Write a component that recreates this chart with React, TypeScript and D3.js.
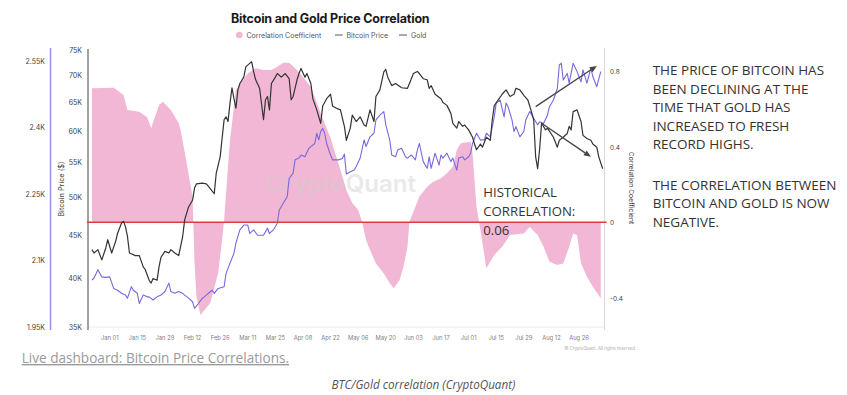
import React from 'react';
import * as d3 from 'd3';

// ---------- DATA ----------
// Bitcoin price, thousands of USD
const btcData: [string, number][] = [
  ['2023-12-23', 43.3], ['2023-12-24', 42.9], ['2023-12-26', 43.3], ['2023-12-28', 42.1], ['2023-12-30', 43.5],
  ['2023-12-31', 44.5], ['2024-01-02', 42.9], ['2024-01-04', 44.3], ['2024-01-05', 45.3], ['2024-01-07', 46.6],
  ['2024-01-08', 46.8], ['2024-01-09', 46.1], ['2024-01-10', 44.9], ['2024-01-11', 42.9], ['2024-01-14', 42.6],
  ['2024-01-16', 42.6], ['2024-01-18', 41.3], ['2024-01-19', 41.0], ['2024-01-21', 39.8], ['2024-01-22', 39.5],
  ['2024-01-23', 40.0], ['2024-01-25', 39.8], ['2024-01-26', 41.3], ['2024-01-27', 42.4], ['2024-01-29', 43.1],
  ['2024-01-31', 42.9], ['2024-02-01', 43.3], ['2024-02-03', 42.9], ['2024-02-05', 42.6], ['2024-02-07', 44.9],
  ['2024-02-08', 47.0], ['2024-02-10', 48.7], ['2024-02-12', 49.6], ['2024-02-13', 51.3], ['2024-02-14', 51.9],
  ['2024-02-17', 52.0], ['2024-02-19', 51.9], ['2024-02-21', 51.2], ['2024-02-23', 50.5], ['2024-02-24', 53.4],
  ['2024-02-26', 55.9], ['2024-02-28', 61.9], ['2024-02-29', 62.4], ['2024-03-01', 61.6], ['2024-03-02', 64.8],
  ['2024-03-03', 67.6], ['2024-03-04', 65.6], ['2024-03-05', 63.9], ['2024-03-06', 67.2], ['2024-03-07', 68.4],
  ['2024-03-09', 69.6], ['2024-03-10', 71.6], ['2024-03-12', 72.3], ['2024-03-13', 72.6], ['2024-03-14', 70.6],
  ['2024-03-15', 69.1], ['2024-03-17', 67.5], ['2024-03-19', 61.9], ['2024-03-20', 65.4], ['2024-03-21', 66.0],
  ['2024-03-22', 63.6], ['2024-03-23', 68.4], ['2024-03-25', 69.6], ['2024-03-26', 70.3], ['2024-03-28', 69.6],
  ['2024-03-30', 70.3], ['2024-04-01', 69.3], ['2024-04-02', 65.4], ['2024-04-03', 66.0], ['2024-04-05', 69.1],
  ['2024-04-06', 70.3], ['2024-04-07', 71.3], ['2024-04-09', 69.6], ['2024-04-10', 70.3], ['2024-04-12', 68.4],
  ['2024-04-13', 65.6], ['2024-04-15', 63.6], ['2024-04-17', 61.3], ['2024-04-18', 64.3], ['2024-04-20', 65.6],
  ['2024-04-22', 66.4], ['2024-04-23', 64.3], ['2024-04-25', 63.9], ['2024-04-27', 63.6], ['2024-04-29', 60.8],
  ['2024-04-30', 58.5], ['2024-05-02', 60.5], ['2024-05-03', 62.7], ['2024-05-05', 61.6], ['2024-05-07', 62.4],
  ['2024-05-09', 61.0], ['2024-05-10', 60.8], ['2024-05-12', 63.6], ['2024-05-14', 61.6], ['2024-05-15', 66.0],
  ['2024-05-17', 67.2], ['2024-05-19', 70.6], ['2024-05-20', 71.1], ['2024-05-21', 69.6], ['2024-05-23', 68.0],
  ['2024-05-25', 68.4], ['2024-05-28', 67.6], ['2024-05-31', 67.5], ['2024-06-01', 68.4], ['2024-06-03', 70.3],
  ['2024-06-05', 70.7], ['2024-06-06', 70.3], ['2024-06-08', 69.3], ['2024-06-10', 69.1], ['2024-06-11', 67.5],
  ['2024-06-12', 68.0], ['2024-06-14', 66.4], ['2024-06-17', 65.6], ['2024-06-18', 64.9], ['2024-06-20', 64.4],
  ['2024-06-22', 63.0], ['2024-06-23', 61.3], ['2024-06-25', 60.5], ['2024-06-26', 61.6], ['2024-06-28', 60.8],
  ['2024-06-29', 61.0], ['2024-07-01', 60.2], ['2024-07-03', 59.0], ['2024-07-04', 57.9], ['2024-07-05', 57.0],
  ['2024-07-07', 57.9], ['2024-07-08', 57.4], ['2024-07-10', 59.0], ['2024-07-12', 58.5], ['2024-07-13', 61.9],
  ['2024-07-14', 64.3], ['2024-07-16', 65.4], ['2024-07-18', 66.4], ['2024-07-20', 67.2], ['2024-07-22', 66.0],
  ['2024-07-24', 66.4], ['2024-07-25', 67.5], ['2024-07-27', 67.2], ['2024-07-29', 66.2], ['2024-07-31', 65.4],
  ['2024-08-01', 64.3], ['2024-08-03', 61.9], ['2024-08-04', 55.9], ['2024-08-05', 54.1], ['2024-08-06', 57.0],
  ['2024-08-07', 61.3], ['2024-08-09', 60.2], ['2024-08-10', 60.5], ['2024-08-13', 59.0], ['2024-08-15', 57.4],
  ['2024-08-16', 58.5], ['2024-08-18', 59.0], ['2024-08-20', 59.6], ['2024-08-21', 60.8], ['2024-08-22', 60.2],
  ['2024-08-23', 63.3], ['2024-08-25', 63.6], ['2024-08-27', 61.6], ['2024-08-28', 59.3], ['2024-08-30', 58.8],
  ['2024-09-01', 58.5], ['2024-09-02', 57.9], ['2024-09-04', 57.4], ['2024-09-05', 55.9], ['2024-09-07', 54.1],
];

// Gold price, USD
const goldData: [string, number][] = [
  ['2023-12-23', 2056], ['2023-12-24', 2060], ['2023-12-26', 2079], ['2023-12-28', 2063], ['2023-12-30', 2062],
  ['2024-01-01', 2063], ['2024-01-03', 2037], ['2024-01-05', 2033], ['2024-01-07', 2026], ['2024-01-09', 2022],
  ['2024-01-10', 2015], ['2024-01-12', 2041], ['2024-01-13', 2033], ['2024-01-15', 2026], ['2024-01-16', 2003],
  ['2024-01-18', 2022], ['2024-01-20', 2018], ['2024-01-21', 2018], ['2024-01-23', 2011], ['2024-01-25', 2018],
  ['2024-01-27', 2022], ['2024-01-29', 2030], ['2024-01-31', 2049], ['2024-02-01', 2030], ['2024-02-03', 2026],
  ['2024-02-05', 2030], ['2024-02-07', 2026], ['2024-02-08', 2022], ['2024-02-10', 2015], ['2024-02-12', 2007],
  ['2024-02-13', 1992], ['2024-02-15', 2003], ['2024-02-17', 2015], ['2024-02-18', 2018], ['2024-02-20', 2026],
  ['2024-02-22', 2033], ['2024-02-23', 2026], ['2024-02-25', 2037], ['2024-02-28', 2041], ['2024-02-29', 2071],
  ['2024-03-02', 2094], ['2024-03-04', 2116], ['2024-03-05', 2139], ['2024-03-07', 2169], ['2024-03-09', 2180],
  ['2024-03-11', 2180], ['2024-03-12', 2161], ['2024-03-14', 2169], ['2024-03-16', 2157], ['2024-03-17', 2157],
  ['2024-03-19', 2157], ['2024-03-21', 2173], ['2024-03-22', 2161], ['2024-03-24', 2169], ['2024-03-26', 2184],
  ['2024-03-27', 2214], ['2024-03-29', 2229], ['2024-03-31', 2244], ['2024-04-01', 2285], ['2024-04-03', 2297],
  ['2024-04-04', 2327], ['2024-04-06', 2331], ['2024-04-07', 2338], ['2024-04-09', 2334], ['2024-04-11', 2353],
  ['2024-04-12', 2357], ['2024-04-14', 2364], ['2024-04-15', 2387], ['2024-04-16', 2372], ['2024-04-17', 2391],
  ['2024-04-18', 2398], ['2024-04-19', 2387], ['2024-04-20', 2364], ['2024-04-22', 2338], ['2024-04-23', 2327],
  ['2024-04-26', 2327], ['2024-04-28', 2330], ['2024-04-29', 2340], ['2024-04-30', 2295], ['2024-05-02', 2300],
  ['2024-05-04', 2304], ['2024-05-05', 2312], ['2024-05-07', 2331], ['2024-05-09', 2372], ['2024-05-10', 2357],
  ['2024-05-12', 2379], ['2024-05-14', 2387], ['2024-05-15', 2417], ['2024-05-17', 2428], ['2024-05-19', 2436],
  ['2024-05-20', 2406], ['2024-05-22', 2372], ['2024-05-23', 2338], ['2024-05-25', 2334], ['2024-05-26', 2349],
  ['2024-05-28', 2353], ['2024-05-30', 2334], ['2024-05-31', 2331], ['2024-06-02', 2338], ['2024-06-04', 2327],
  ['2024-06-05', 2349], ['2024-06-06', 2364], ['2024-06-08', 2323], ['2024-06-10', 2308], ['2024-06-11', 2334],
  ['2024-06-12', 2308], ['2024-06-14', 2342], ['2024-06-16', 2315], ['2024-06-17', 2338], ['2024-06-18', 2331],
  ['2024-06-20', 2342], ['2024-06-22', 2323], ['2024-06-23', 2331], ['2024-06-25', 2304], ['2024-06-26', 2331],
  ['2024-06-28', 2334], ['2024-06-29', 2327], ['2024-07-01', 2334], ['2024-07-02', 2342], ['2024-07-03', 2364],
  ['2024-07-05', 2387], ['2024-07-07', 2372], ['2024-07-09', 2372], ['2024-07-10', 2387], ['2024-07-12', 2379],
  ['2024-07-14', 2424], ['2024-07-15', 2455], ['2024-07-17', 2462], ['2024-07-19', 2424], ['2024-07-20', 2455],
  ['2024-07-21', 2447], ['2024-07-23', 2417], ['2024-07-24', 2391], ['2024-07-25', 2402], ['2024-07-27', 2379],
  ['2024-07-29', 2391], ['2024-07-30', 2417], ['2024-08-01', 2436], ['2024-08-03', 2421], ['2024-08-05', 2406],
  ['2024-08-06', 2413], ['2024-08-08', 2409], ['2024-08-10', 2428], ['2024-08-11', 2447], ['2024-08-13', 2462],
  ['2024-08-15', 2488], ['2024-08-16', 2541], ['2024-08-17', 2545], ['2024-08-18', 2507], ['2024-08-20', 2522],
  ['2024-08-21', 2500], ['2024-08-23', 2545], ['2024-08-25', 2526], ['2024-08-27', 2503], ['2024-08-28', 2530],
  ['2024-08-30', 2500], ['2024-09-01', 2534], ['2024-09-02', 2515], ['2024-09-04', 2492], ['2024-09-06', 2526],
];

// Correlation coefficient
const corrData: [string, number][] = [
  ['2023-12-23', 0.714], ['2024-01-03', 0.717], ['2024-01-08', 0.678], ['2024-01-10', 0.599], ['2024-01-16', 0.59],
  ['2024-01-20', 0.56], ['2024-01-22', 0.502], ['2024-01-26', 0.625], ['2024-01-28', 0.643], ['2024-02-01', 0.599],
  ['2024-02-05', 0.528], ['2024-02-06', 0.49], ['2024-02-09', 0.318], ['2024-02-12', 0.138], ['2024-02-13', -0.21],
  ['2024-02-14', -0.39], ['2024-02-16', -0.487], ['2024-02-21', -0.424], ['2024-02-25', -0.265], ['2024-02-27', -0.09],
  ['2024-02-28', 0.016], ['2024-03-02', 0.44], ['2024-03-05', 0.705], ['2024-03-11', 0.793], ['2024-03-15', 0.82],
  ['2024-03-19', 0.811], ['2024-03-23', 0.811], ['2024-03-26', 0.828], ['2024-03-29', 0.849], ['2024-04-01', 0.849],
  ['2024-04-05', 0.811], ['2024-04-12', 0.722], ['2024-04-17', 0.58], ['2024-04-22', 0.45], ['2024-04-27', 0.281],
  ['2024-04-30', 0.175], ['2024-05-03', 0.106], ['2024-05-06', 0.069], ['2024-05-08', 0.007], ['2024-05-10', -0.09],
  ['2024-05-12', -0.143], ['2024-05-15', -0.214], ['2024-05-19', -0.267], ['2024-05-22', -0.319], ['2024-05-24', -0.346],
  ['2024-05-27', -0.302], ['2024-05-29', -0.232], ['2024-05-31', -0.126], ['2024-06-01', 0.007], ['2024-06-04', 0.086],
  ['2024-06-06', 0.139], ['2024-06-10', 0.192], ['2024-06-13', 0.219], ['2024-06-17', 0.237], ['2024-06-20', 0.263],
  ['2024-06-23', 0.298], ['2024-06-25', 0.387], ['2024-06-27', 0.422], ['2024-07-02', 0.431], ['2024-07-03', 0.369],
  ['2024-07-05', 0.086], ['2024-07-07', -0.037], ['2024-07-10', -0.24], ['2024-07-14', -0.17], ['2024-07-18', -0.126],
  ['2024-07-22', -0.064], ['2024-07-29', -0.055], ['2024-08-01', -0.02], ['2024-08-05', -0.064], ['2024-08-08', -0.126],
  ['2024-08-11', -0.205], ['2024-08-15', -0.223], ['2024-08-18', -0.214], ['2024-08-21', -0.126], ['2024-08-23', -0.055],
  ['2024-08-25', -0.064], ['2024-08-27', -0.214], ['2024-08-30', -0.284], ['2024-09-02', -0.337], ['2024-09-06', -0.399],
];

const btcTicks = [35, 40, 45, 50, 55, 60, 65, 70, 75];
const goldTicks = [1950, 2100, 2250, 2400, 2550];
const corrTicks = [-0.4, 0, 0.4, 0.8];
const xTickDates = ['2024-01-01', '2024-01-15', '2024-01-29', '2024-02-12', '2024-02-26', '2024-03-11', '2024-03-25',
  '2024-04-08', '2024-04-22', '2024-05-06', '2024-05-20', '2024-06-03', '2024-06-17', '2024-07-01', '2024-07-15',
  '2024-07-29', '2024-08-12', '2024-08-26'];
const xDomain = ['2023-12-22', '2024-09-07'];
const historicalCorrelation = 0;

const title = 'Bitcoin and Gold Price Correlation';
const noteLines = ['THE PRICE OF BITCOIN HAS', 'BEEN DECLINING AT THE', 'TIME THAT GOLD HAS', 'INCREASED TO FRESH', 'RECORD HIGHS.'];
const noteLines2 = ['THE CORRELATION BETWEEN', 'BITCOIN AND GOLD IS NOW', 'NEGATIVE.'];
const histLines = ['HISTORICAL', 'CORRELATION:', '0.06'];
// arrows in data space: gold rising, bitcoin falling
const goldArrow: [string, number, string, number] = ['2024-08-04', 2447, '2024-09-04', 2539];
const btcArrow: [string, number, string, number] = ['2024-08-07', 61.3, '2024-09-01', 55.9];

const parse = d3.timeParse('%Y-%m-%d') as (s: string) => Date;
const fmtX = d3.timeFormat('%b %d');

const CHART_FONT = "Inter, 'Noto Sans', 'DejaVu Sans', sans-serif";
const NOTE_FONT = "'Open Sans', 'Noto Sans', sans-serif";
const PINK = '#f2b7d4';
const PURPLE = '#7868dc';

function Arrow({ x1, y1, x2, y2 }: { x1: number; y1: number; x2: number; y2: number }) {
  const ang = Math.atan2(y2 - y1, x2 - x1);
  const L = 7, Wd = 3;
  const bx = x2 - L * Math.cos(ang), by = y2 - L * Math.sin(ang);
  const px = -Math.sin(ang) * Wd, py = Math.cos(ang) * Wd;
  return (
    <g>
      <line x1={x1} y1={y1} x2={bx} y2={by} stroke="#444" strokeWidth={1.3} />
      <path d={`M${x2},${y2}L${bx + px},${by + py}L${bx - px},${by - py}Z`} fill="#444" />
    </g>
  );
}

export default function App() {
  const x = d3.scaleTime().domain(xDomain.map(parse)).range([90, 602.7]);
  const yBtc = d3.scaleLog().domain([35, 75]).range([327, 50]);
  const yGold = d3.scaleLinear().domain([1950, 2550]).range([327, 61]);
  const yCorr = d3.scaleLinear().domain([-0.5, 0.8]).range([317.4, 72]);

  const btc = btcData.map(([d, v]) => ({ d: parse(d), v }));
  const gold = goldData.map(([d, v]) => ({ d: parse(d), v }));
  const corr = corrData.map(([d, v]) => ({ d: parse(d), v }));

  const area = d3.area<{ d: Date; v: number }>().x((p) => x(p.d)).y0(yCorr(0)).y1((p) => yCorr(p.v));
  const lineBtc = d3.line<{ d: Date; v: number }>().x((p) => x(p.d)).y((p) => yBtc(p.v));
  const lineGold = d3.line<{ d: Date; v: number }>().x((p) => x(p.d)).y((p) => yGold(p.v));

  const left = 88, right = 604.5, top = 48, bottom = 330;

  return (
    <svg width={847} height={395} style={{ position: 'absolute', left: 0, top: 0, background: '#fff' }}>
      <rect x={0} y={0} width={847} height={395} fill="#fff" />
      {/* title & legend */}
      <text x={231} y={22.7} fontFamily={CHART_FONT} fontWeight={700} fontSize={12.5} letterSpacing={-0.2} fill="#1a1a1a">{title}</text>
      <circle cx={239.3} cy={35} r={3.3} fill={PINK} />
      <text x={246.5} y={37.5} fontFamily={CHART_FONT} fontSize={7} fill="#555">Correlation Coefficient</text>
      <line x1={335} x2={342.7} y1={35} y2={35} stroke="#444" strokeWidth={0.9} />
      <text x={346.5} y={37.5} fontFamily={CHART_FONT} fontSize={7} fill="#555">Bitcoin Price</text>
      <line x1={399} x2={407} y1={35} y2={35} stroke="#444" strokeWidth={0.9} />
      <text x={411} y={37.5} fontFamily={CHART_FONT} fontSize={7} fill="#555">Gold</text>

      {/* correlation area */}
      <path d={area(corr) || ''} fill={PINK} />

      {/* watermark */}
      <text x={341} y={192} textAnchor="middle" fontFamily={CHART_FONT} fontWeight={600} fontSize={24} fill="#cfcfcf" opacity={0.45}>CryptoQuant</text>

      {/* axes */}
      <line x1={left} x2={right} y1={327} y2={327} stroke="#ececec" strokeWidth={1} />
      <line x1={50.5} x2={50.5} y1={top} y2={bottom} stroke="#9a92ea" strokeWidth={1.5} />
      <line x1={left} x2={left} y1={top + 1} y2={bottom} stroke="#444" strokeWidth={1} />
      <line x1={right} x2={right} y1={top} y2={bottom} stroke="#e4d4dc" strokeWidth={1} />

      {goldTicks.map((t) => (
        <text key={t} x={45} y={yGold(t) + 2.5} textAnchor="end" fontFamily={CHART_FONT} fontSize={7} fill="#444">{`${t / 1000}K`}</text>
      ))}
      {btcTicks.map((t) => (
        <text key={t} x={82} y={yBtc(t) + 2.5} textAnchor="end" fontFamily={CHART_FONT} fontSize={7} fill="#444">{`${t}K`}</text>
      ))}
      {corrTicks.map((t) => (
        <text key={t} x={610} y={yCorr(t) + 2.3} fontFamily={CHART_FONT} fontSize={6.5} fill="#444">{`${t}`}</text>
      ))}
      {xTickDates.map((s) => (
        <text key={s} x={x(parse(s))} y={339.5} textAnchor="middle" fontFamily={CHART_FONT} fontSize={5.8} fill="#808080">{fmtX(parse(s))}</text>
      ))}
      <text transform="translate(63.5,189) rotate(-90)" textAnchor="middle" fontFamily={CHART_FONT} fontSize={7.3} fill="#444">Bitcoin Price ($)</text>
      <text transform="translate(629,188) rotate(90)" textAnchor="middle" fontFamily={CHART_FONT} fontSize={6.8} fill="#444">Correlation Coefficient</text>
      <text x={635} y={350} textAnchor="end" fontFamily={CHART_FONT} fontSize={4.3} fill="#aaa">© CryptoQuant. All rights reserved</text>

      {/* red historical line */}
      <line x1={87} x2={606.5} y1={yCorr(historicalCorrelation) - 0.8} y2={yCorr(historicalCorrelation) - 0.8} stroke="#e23b3e" strokeWidth={1.5} />

      {/* series lines */}
      <path d={lineGold(gold) || ''} fill="none" stroke={PURPLE} strokeWidth={1.1} strokeLinejoin="round" />
      <path d={lineBtc(btc) || ''} fill="none" stroke="#333" strokeWidth={1.2} strokeLinejoin="round" />

      {/* arrows */}
      <Arrow x1={x(parse(goldArrow[0]))} y1={yGold(goldArrow[1])} x2={x(parse(goldArrow[2]))} y2={yGold(goldArrow[3])} />
      <Arrow x1={x(parse(btcArrow[0]))} y1={yBtc(btcArrow[1])} x2={x(parse(btcArrow[2]))} y2={yBtc(btcArrow[3])} />

      {/* annotations */}
      {histLines.map((s, i) => (
        <text key={s} x={483.3} y={197 + i * 19} fontFamily={NOTE_FONT} fontSize={13.2} fill="#333">{s}</text>
      ))}
      {noteLines.map((s, i) => (
        <text key={s} x={652.7} y={75 + i * 18.5} fontFamily={NOTE_FONT} fontSize={13.5} fill="#333">{s}</text>
      ))}
      {noteLines2.map((s, i) => (
        <text key={s} x={652.7} y={189.5 + i * 18.5} fontFamily={NOTE_FONT} fontSize={13.5} fill="#333">{s}</text>
      ))}

      {/* page texts */}
      <text x={21.7} y={363} fontFamily={NOTE_FONT} fontSize={13.6} fill="#9a9a9a" textDecoration="underline">Live dashboard: Bitcoin Price Correlations.</text>
      <text x={423.5} y={389} textAnchor="middle" fontFamily={NOTE_FONT} fontStyle="italic" fontSize={11.7} fill="#555">BTC/Gold correlation (CryptoQuant)</text>
    </svg>
  );
}
